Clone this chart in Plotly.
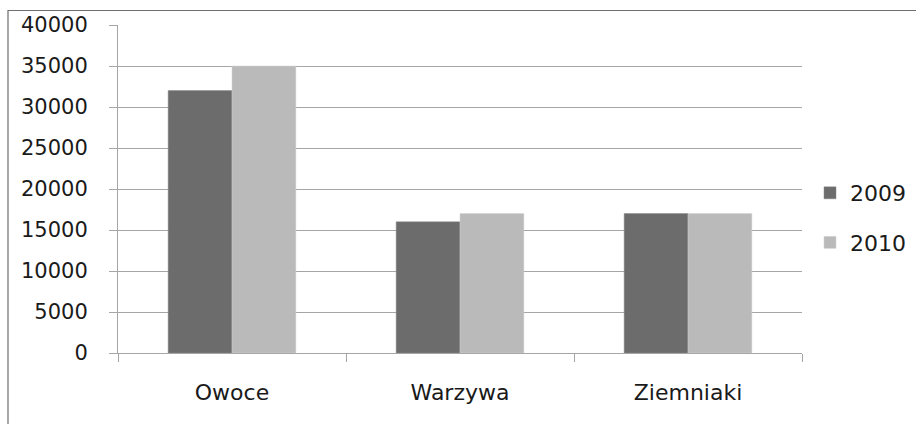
import plotly.graph_objects as go

categories = ["Owoce", "Warzywa", "Ziemniaki"]
values_2009 = [32000, 16000, 17000]
values_2010 = [35000, 17000, 17000]
series_names = ["2009", "2010"]
y_ticks = [0, 5000, 10000, 15000, 20000, 25000, 30000, 35000, 40000]

FONT = "DejaVu Sans"
GRID = "#a6a6a6"

fig = go.Figure()
fig.add_trace(go.Bar(x=categories, y=values_2009, name=series_names[0], legendgroup="a",
                     marker=dict(color="#6c6c6c", line=dict(color="#8a8a8a", width=0.5))))
fig.add_trace(go.Bar(x=categories, y=values_2010, name=series_names[1], legendgroup="b",
                     marker=dict(color="#bababa", line=dict(color="#d0d0d0", width=0.5))))

fig.update_layout(
    width=916, height=424,
    margin=dict(l=118, r=114, t=25, b=71, autoexpand=False),
    paper_bgcolor="white", plot_bgcolor="white",
    barmode="group", bargap=0.44, bargroupgap=0,
    font=dict(family=FONT, size=21, color="#1a1a1a"),
    showlegend=True,
    legend=dict(xref="container", yref="container", x=810 / 916, xanchor="left",
                y=(424 - 218) / 424, yanchor="middle",
                font=dict(family=FONT, size=22, color="#1a1a1a"),
                tracegroupgap=18, itemwidth=30,
                bgcolor="rgba(0,0,0,0)"),
    xaxis=dict(type="category", showline=True, linecolor=GRID, linewidth=1,
               ticks="outside", tickson="boundaries", ticklen=8, tickcolor=GRID,
               showgrid=False, ticklabelstandoff=20, automargin=False,
               tickfont=dict(family=FONT, size=22)),
    yaxis=dict(range=[0, 40000], tickvals=y_ticks, ticktext=[str(v) for v in y_ticks],
               showline=True, linecolor=GRID, linewidth=1,
               ticks="outside", ticklen=8, tickcolor=GRID,
               showgrid=True, gridcolor=GRID, gridwidth=1, zeroline=False,
               ticklabelstandoff=17, automargin=False,
               tickfont=dict(family=FONT, size=21)),
    shapes=[dict(type="rect", xref="paper", yref="paper",
                 x0=(8 - 118) / 684, x1=(930 - 118) / 684,
                 y0=(353 - 440) / 328, y1=(353 - 10.5) / 328,
                 line=dict(color="#6e6e6e", width=1.2), fillcolor="rgba(0,0,0,0)",
                 layer="below")],
)

fig.write_html("out.html", config={"displayModeBar": False},
               post_script="document.body.style.margin='0';document.body.style.overflow='hidden';")
